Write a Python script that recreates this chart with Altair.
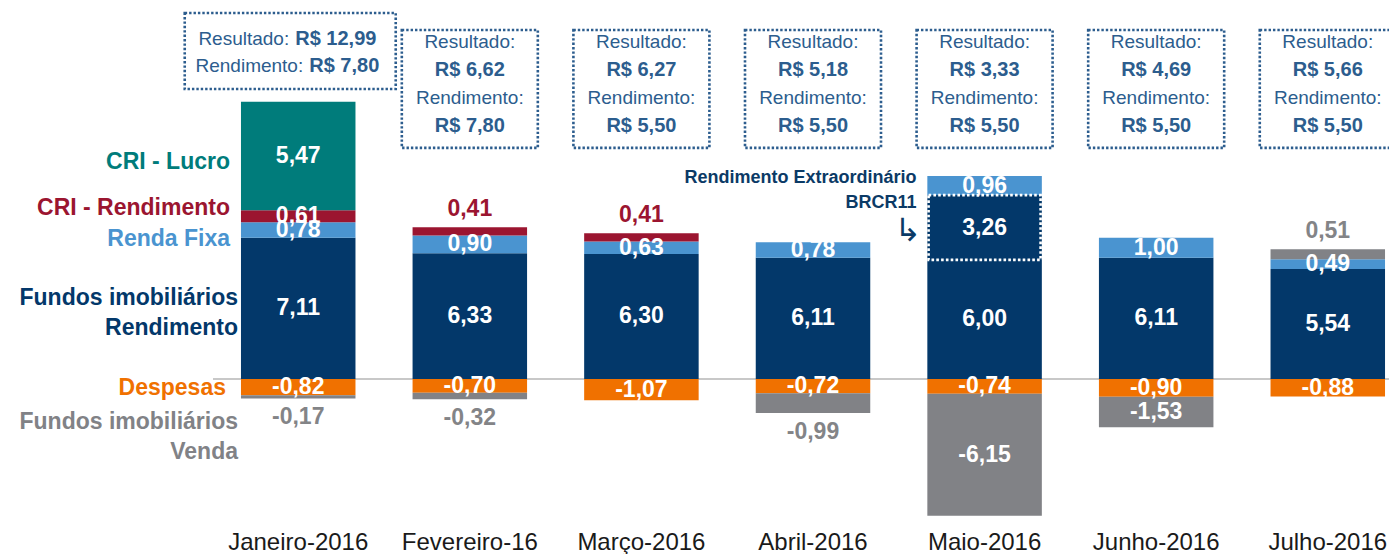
import altair as alt
import pandas as pd

# ---------------- data ----------------
months = ["Janeiro-2016", "Fevereiro-16", "Março-2016", "Abril-2016",
          "Maio-2016", "Junho-2016", "Julho-2016"]
fii_rendimento = [7.11, 6.33, 6.30, 6.11, 6.00, 6.11, 5.54]
extra_brcr11 = [0, 0, 0, 0, 3.26, 0, 0]
renda_fixa = [0.78, 0.90, 0.63, 0.78, 0.96, 1.00, 0.49]
cri_rendimento = [0.61, 0.41, 0.41, 0, 0, 0, 0]
cri_lucro = [5.47, 0, 0, 0, 0, 0, 0]
fii_venda = [-0.17, -0.32, 0, -0.99, -6.15, -1.53, 0.51]
despesas = [-0.82, -0.70, -1.07, -0.72, -0.74, -0.90, -0.88]
resultado = [12.99, 6.62, 6.27, 5.18, 3.33, 4.69, 5.66]
rendimento = [7.80, 7.80, 5.50, 5.50, 5.50, 5.50, 5.50]

# ---------------- styles ----------------
C = {
    "fii_rend": "#03386a",
    "extra": "#03386a",
    "renda_fixa": "#4a94d0",
    "cri_rend": "#9b1530",
    "cri_lucro": "#007c7b",
    "venda": "#818286",
    "despesas": "#f07100",
}
BOX = "#2c5d8e"
FONT = "Liberation Sans"


def fmt(v):
    return f"{v:.2f}".replace(".", ",")


# ---------------- stacking ----------------
pos_order = [("fii_rend", fii_rendimento), ("extra", extra_brcr11),
             ("renda_fixa", renda_fixa), ("cri_rend", cri_rendimento),
             ("cri_lucro", cri_lucro), ("venda", fii_venda)]
neg_order = [("despesas", despesas), ("venda", fii_venda)]

# label placement: series -> (threshold below which the label goes outside, outside colour)
outside_rule = {"cri_rend": (0.5, C["cri_rend"]), "venda": (1.2, "#838487")}

seg_rows, lab_rows = [], []
for i, m in enumerate(months):
    top, bot = 0.0, 0.0
    for key, arr in pos_order:
        v = arr[i]
        if v > 0:
            seg_rows.append(dict(month=m, series=key, y0=top, y1=top + v))
            th, oc = outside_rule.get(key, (0, None))
            if v < th:
                lab_rows.append(dict(month=m, txt=fmt(v), y=top + v + 0.9, col=oc))
            else:
                lab_rows.append(dict(month=m, txt=fmt(v), y=top + v / 2, col="#ffffff"))
            top += v
    for key, arr in neg_order:
        v = arr[i]
        if v < 0:
            seg_rows.append(dict(month=m, series=key, y0=bot, y1=bot + v))
            th, oc = outside_rule.get(key, (0, None))
            if -v < th:
                lab_rows.append(dict(month=m, txt=fmt(v), y=bot + v - 0.95, col=oc))
            else:
                lab_rows.append(dict(month=m, txt=fmt(v), y=bot + v / 2, col="#ffffff"))
            bot += v

segs = pd.DataFrame(seg_rows)
labs = pd.DataFrame(lab_rows)

series_keys = list(C.keys())

xscale = alt.Scale(domain=months, paddingInner=0.333, paddingOuter=0)
yscale = alt.Scale(domain=[-7.51, 18.69], nice=False, zero=False)

XAXIS = alt.Axis(title=None, ticks=False, domain=False, grid=False, labelAngle=0,
                 labelFontSize=24, labelFont=FONT, labelColor="#1a1a1a",
                 labelPadding=2, labelBaseline="top")
X = alt.X("month:N", scale=xscale, sort=months, axis=XAXIS)
Y = lambda f: alt.Y(f, scale=yscale, axis=None)

# baseline rule
base = alt.Chart(pd.DataFrame({"y": [0]})).mark_rule(color="#c8c8c8", strokeWidth=2).encode(
    y=Y("y:Q"), x=alt.value(-28), x2=alt.value(1160))

bars = alt.Chart(segs).mark_bar(size=114.5).encode(
    x=X, y=Y("y0:Q"), y2="y1:Q",
    color=alt.Color("series:N", scale=alt.Scale(domain=series_keys, range=[C[k] for k in series_keys]), legend=None),
)

extra = alt.Chart(segs[segs.series == "extra"]).mark_bar(
    size=112, fill=C["extra"], stroke="white", strokeWidth=2.6, strokeDash=[2.6, 2.2]).encode(
    x=X, y=Y("y0:Q"), y2="y1:Q")

labels = alt.Chart(labs).mark_text(font=FONT, fontWeight="bold", fontSize=23, baseline="middle").encode(
    x=X, y=Y("y:Q"), text="txt:N", color=alt.Color("col:N", scale=None))

# ---------------- annotation boxes ----------------
box_months = months[1:]
boxes = pd.DataFrame({"month": box_months, "top": [17.58] * 6, "bot": [11.64] * 6})
box_layer = alt.Chart(boxes).mark_bar(size=136, fill="white", fillOpacity=0, stroke=BOX,
                                      strokeWidth=2.6, strokeDash=[2.4, 2.0]).encode(
    x=X, y=Y("top:Q"), y2="bot:Q")
jan_box = alt.Chart(pd.DataFrame({"month": [months[0]], "top": [18.44], "bot": [14.61]})).mark_bar(
    size=211, xOffset=-8, fill="white", fillOpacity=0, stroke=BOX, strokeWidth=2.6,
    strokeDash=[2.4, 2.0]).encode(x=X, y=Y("top:Q"), y2="bot:Q")

line_y = [16.98, 15.57, 14.16, 12.75]
norm_rows, bold_rows = [], []
for i, m in enumerate(months[1:], start=1):
    norm_rows.append(dict(month=m, txt="Resultado:", y=line_y[0]))
    bold_rows.append(dict(month=m, txt="R$ " + fmt(resultado[i]), y=line_y[1]))
    norm_rows.append(dict(month=m, txt="Rendimento:", y=line_y[2]))
    bold_rows.append(dict(month=m, txt="R$ " + fmt(rendimento[i]), y=line_y[3]))
box_norm = alt.Chart(pd.DataFrame(norm_rows)).mark_text(font=FONT, fontSize=19, color=BOX, baseline="middle").encode(
    x=X, y=Y("y:Q"), text="txt:N")
box_bold = alt.Chart(pd.DataFrame(bold_rows)).mark_text(font=FONT, fontSize=20, fontWeight="bold", color=BOX, baseline="middle").encode(
    x=X, y=Y("y:Q"), text="txt:N")

jan_df = pd.DataFrame({"month": [months[0]] * 2, "y": [17.13, 15.77],
                       "a": ["Resultado:", "Rendimento:"],
                       "b": ["R$ " + fmt(resultado[0]), "R$ " + fmt(rendimento[0])]})
jan_a1 = alt.Chart(jan_df.iloc[[0]]).mark_text(font=FONT, fontSize=19, color=BOX, align="right", baseline="middle", dx=-9).encode(
    x=X, y=Y("y:Q"), text="a:N")
jan_b1 = alt.Chart(jan_df.iloc[[0]]).mark_text(font=FONT, fontSize=20, fontWeight="bold", color=BOX, align="left", baseline="middle", dx=-3).encode(
    x=X, y=Y("y:Q"), text="b:N")
jan_a2 = alt.Chart(jan_df.iloc[[1]]).mark_text(font=FONT, fontSize=19, color=BOX, align="right", baseline="middle", dx=5).encode(
    x=X, y=Y("y:Q"), text="a:N")
jan_b2 = alt.Chart(jan_df.iloc[[1]]).mark_text(font=FONT, fontSize=20, fontWeight="bold", color=BOX, align="left", baseline="middle", dx=11).encode(
    x=X, y=Y("y:Q"), text="b:N")

# extraordinary annotation
ext_df = pd.DataFrame({"month": [months[4]] * 2, "y": [10.13, 8.87],
                       "txt": ["Rendimento Extraordinário", "BRCR11"]})
ext_txt = alt.Chart(ext_df).mark_text(font=FONT, fontSize=18, fontWeight="bold", color="#0b3a66",
                                      align="right", baseline="middle", dx=-68).encode(
    x=X, y=Y("y:Q"), text="txt:N")
arrow = alt.Chart(pd.DataFrame({"month": [months[4]], "y": [7.45], "txt": ["↳"]})).mark_text(
    font="DejaVu Sans", fontSize=32, color="#0b3a66", align="center", baseline="middle", dx=-77).encode(
    x=X, y=Y("y:Q"), text="txt:N")

# left series labels
left = pd.DataFrame({
    "txt": ["CRI - Lucro", "CRI - Rendimento", "Renda Fixa", "Fundos imobiliários", "Rendimento",
            "Despesas", "Fundos imobiliários", "Venda"],
    "y": [10.93, 8.61, 7.05, 4.08, 2.57, -0.45, -2.17, -3.68],
    "col": [C["cri_lucro"], C["cri_rend"], C["renda_fixa"], C["fii_rend"], C["fii_rend"],
            C["despesas"], C["venda"], C["venda"]],
    "dx": [-11, -11, -11, -3, -3, -15, -3, -3],
})
left_layers = []
for dxv in sorted(set(left["dx"])):
    left_layers.append(
        alt.Chart(left[left.dx == dxv]).mark_text(font=FONT, fontSize=23, fontWeight="bold",
                                                  align="right", baseline="middle").encode(
            x=alt.value(dxv), y=Y("y:Q"), text="txt:N",
            color=alt.Color("col:N", scale=None)))

chart = alt.layer(
    base, bars, extra, labels, box_layer, jan_box, box_norm, box_bold,
    jan_a1, jan_b1, jan_a2, jan_b2, ext_txt, arrow, *left_layers
).properties(
    width=1144, height=520, background="white",
    autosize=alt.AutoSizeParams(type="none"),
    padding={"left": 233, "top": 0, "right": 4, "bottom": 26},
).configure_view(stroke=None)

chart.save("out.html", embed_options={"renderer": "svg", "actions": False})
